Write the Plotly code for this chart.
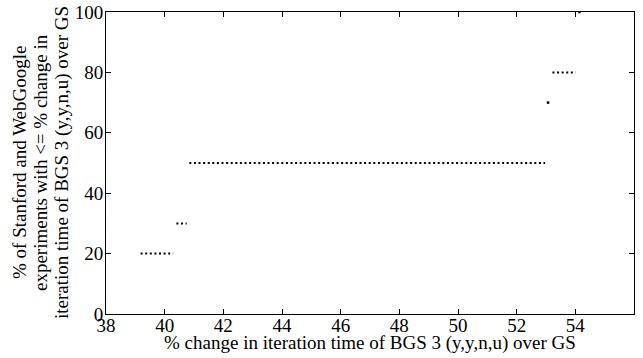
import plotly.graph_objects as go

# CDF steps: percentage of experiments (y) reached over x-range
levels = [20, 30, 50, 70, 80, 100]
x_start = [39.18, 40.40, 40.84, 53.07, 53.22, 54.14]
x_end = [40.29, 40.75, 52.97, 53.07, 54.01, 54.14]

x_ticks = [38, 40, 42, 44, 46, 48, 50, 52, 54, 56]
y_ticks = [0, 20, 40, 60, 80, 100]

x_title = "% change in iteration time of BGS 3 (y,y,n,u) over GS"
y_title_lines = ["% of Stanford and WebGoogle",
                 "experiments with <= % change in",
                 "iteration time of BGS 3 (y,y,n,u) over GS"]

FONT = "Liberation Serif, Times New Roman, serif"
FS = 19

fig = go.Figure()

lx, ly, px, py = [], [], [], []
for a, b, lv in zip(x_start, x_end, levels):
    if b > a:
        lx += [a, b, None]
        ly += [lv, lv, None]
    else:
        px.append(a)
        py.append(lv)

fig.add_trace(go.Scatter(x=lx, y=ly, mode="lines",
                         line=dict(color="black", width=2, dash="2px,2.6px"),
                         showlegend=False, hoverinfo="skip"))
fig.add_trace(go.Scatter(x=px, y=py, mode="markers",
                         marker=dict(color="black", size=2.5, symbol="square"),
                         showlegend=False, hoverinfo="skip"))

axis_common = dict(showgrid=False, zeroline=False, showline=True, linecolor="black",
                   linewidth=1, mirror="allticks", ticks="inside", ticklen=5,
                   tickcolor="black", automargin=False,
                   tickfont=dict(family=FONT, size=FS, color="black"))

fig.update_layout(
    width=643, height=358,
    margin=dict(l=106, r=9, t=12, b=44),
    paper_bgcolor="white", plot_bgcolor="white",
    font=dict(family=FONT, size=FS, color="black"),
    xaxis=dict(range=[38, 56], tickvals=x_ticks, ticklabelstandoff=-6, **axis_common),
    yaxis=dict(range=[0, 100], tickvals=y_ticks, ticklabelstandoff=-2, **axis_common),
)

fig.add_annotation(text=x_title, xref="paper", yref="paper", x=0.5, y=0,
                   xanchor="center", yanchor="middle", yshift=-29, showarrow=False,
                   font=dict(family=FONT, size=FS, color="black"))

centers = [19, 40, 62]
for line, cx in zip(y_title_lines, centers):
    fig.add_annotation(text=line, xref="paper", yref="paper", x=0, y=0.5,
                       xanchor="center", yanchor="middle", xshift=cx - 106,
                       textangle=-90, showarrow=False,
                       font=dict(family=FONT, size=FS, color="black"))

fig.write_html("out.html")
